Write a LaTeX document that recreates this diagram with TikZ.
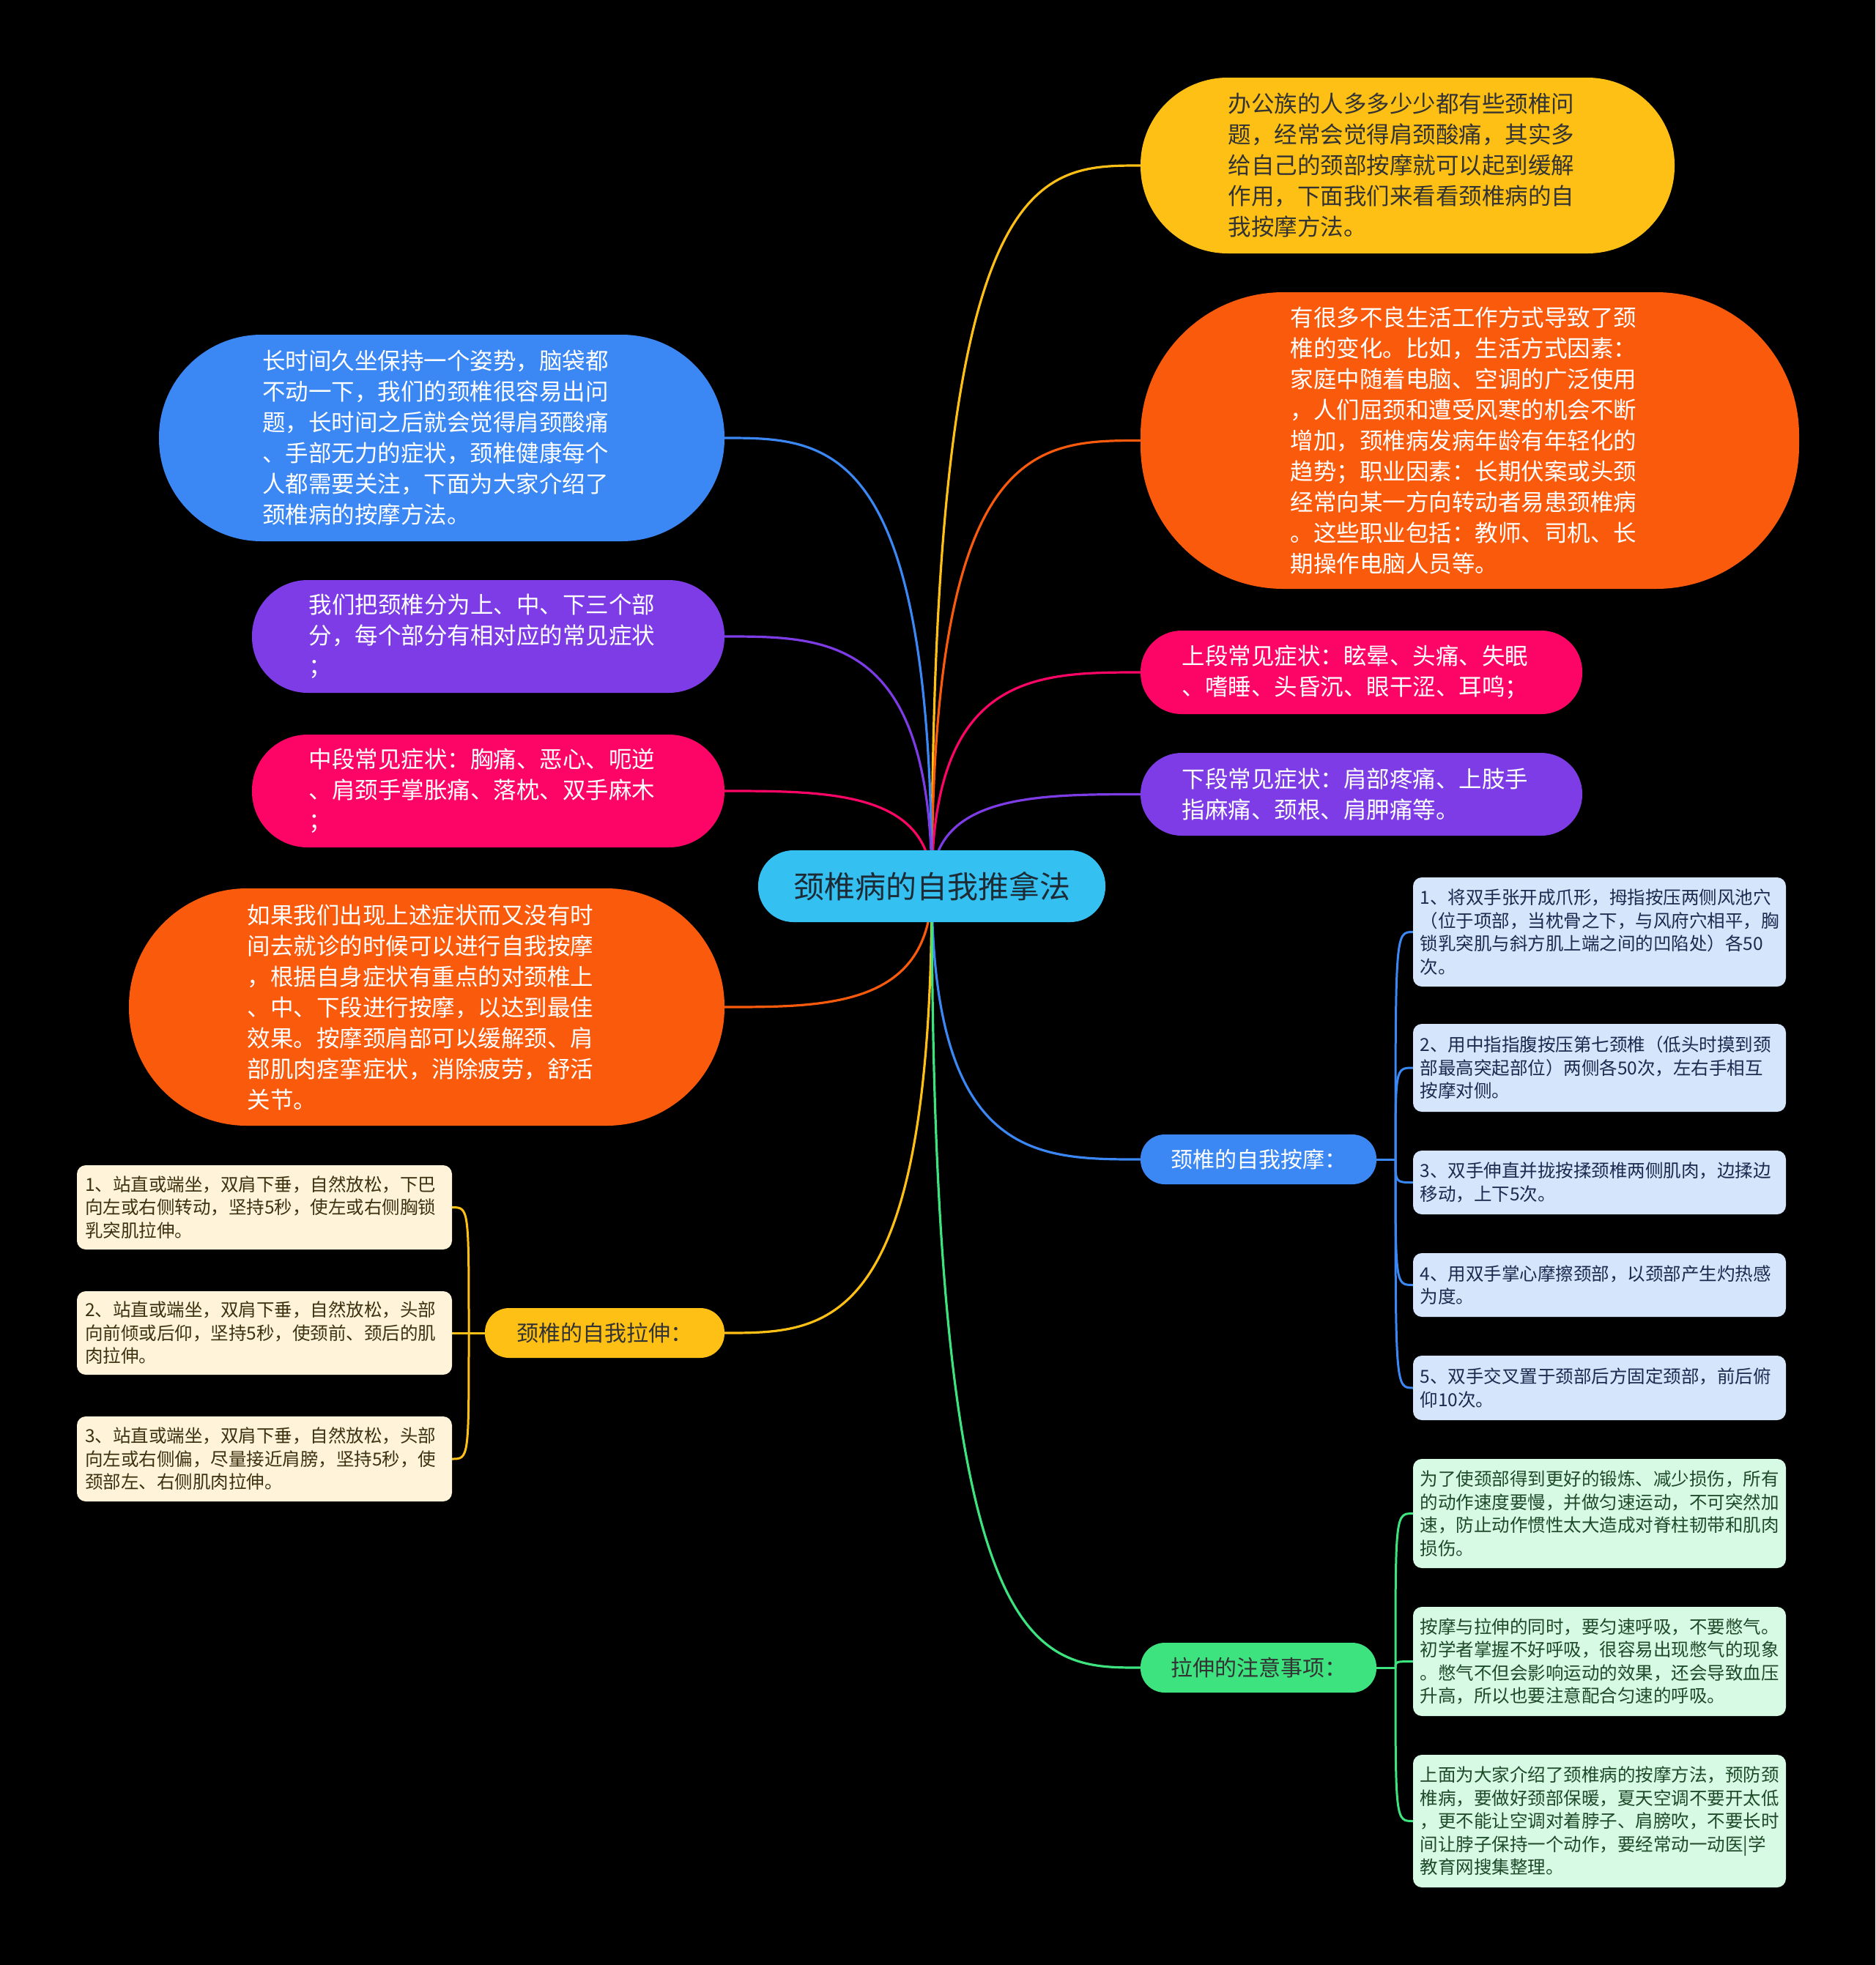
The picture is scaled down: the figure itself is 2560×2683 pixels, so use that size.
\documentclass[tikz,border=0pt]{standalone}
\usepackage{fontspec}
\setmainfont{Noto Sans CJK SC}
\usetikzlibrary{calc}
\pgfdeclarelayer{back}
\pgfdeclarelayer{mid}
\pgfsetlayers{back,mid,main}
\definecolor{cCenter}{HTML}{34C1F1}
\definecolor{cCenterTxt}{HTML}{1D2B36}
\definecolor{cYellow}{HTML}{FEC014}
\definecolor{cOrange}{HTML}{FA5A0C}
\definecolor{cPink}{HTML}{FD0467}
\definecolor{cPurple}{HTML}{7D3CE6}
\definecolor{cBlue}{HTML}{3B87F3}
\definecolor{cGreen}{HTML}{3DE37F}
\definecolor{cDark}{HTML}{333333}
\definecolor{cLeafBlue}{HTML}{D5E5FB}
\definecolor{cLeafBlueTxt}{HTML}{1B2A4E}
\definecolor{cLeafYel}{HTML}{FFF4D9}
\definecolor{cLeafYelTxt}{HTML}{3B3210}
\definecolor{cLeafGrn}{HTML}{D7FAE4}
\definecolor{cLeafGrnTxt}{HTML}{1E4A2A}
\tikzset{
  base/.style={rectangle, inner sep=0pt, outer sep=0pt, align=left},
  mainbox/.style={base, text width=490pt, font=\fontsize{31.5}{42}\selectfont},
  branchbox/.style={base, align=center, minimum height=68pt, rounded corners=33pt, font=\fontsize{30}{36}\selectfont},
  leafbox/.style={base, text width=490pt, rounded corners=12pt, font=\fontsize{24.5}{31.5}\selectfont},
  conn/.style={line width=3.2pt},
  lconn/.style={line width=3pt},
}
\newcommand{\mmlink}[3]{\draw[conn,#3] (#1.center) .. controls (#1.center |- #2) and ($(#1.center |- #2)!0.5!(#2)$) .. (#2);}
\newcommand{\lflink}[3]{\draw[lconn,#3] (#1) .. controls (#1 |- #2) .. (#2);}
\begin{document}
\begin{tikzpicture}[x=1pt,y=-1pt]
\begin{pgfonlayer}{back}
\fill[black] (0,0) rectangle (2560,2683);
\end{pgfonlayer}
\useasboundingbox (0,0) rectangle (2560,2683);

% center
\node[base, align=center, fill=cCenter, text=cCenterTxt, minimum width=474pt, minimum height=98pt, rounded corners=48pt, font=\fontsize{42}{50}\selectfont] (ctr) at (1272,1210) {颈椎病的自我推拿法};

% right main nodes
\node[mainbox, fill=cYellow, text=cDark, minimum width=729pt, minimum height=240pt, rounded corners=119pt] (r1) at (1921.5,226) {办公族的人多多少少都有些颈椎问\\题，经常会觉得肩颈酸痛，其实多\\给自己的颈部按摩就可以起到缓解\\作用，下面我们来看看颈椎病的自\\我按摩方法。};
\node[mainbox, fill=cOrange, text=white, minimum width=899pt, minimum height=405pt, rounded corners=195pt] (r2) at (2006.5,601.5) {有很多不良生活工作方式导致了颈\\椎的变化。比如，生活方式因素：\\家庭中随着电脑、空调的广泛使用\\，人们屈颈和遭受风寒的机会不断\\增加，颈椎病发病年龄有年轻化的\\趋势；职业因素：长期伏案或头颈\\经常向某一方向转动者易患颈椎病\\。这些职业包括：教师、司机、长\\期操作电脑人员等。};
\node[mainbox, fill=cPink, text=white, minimum width=603pt, minimum height=114pt, rounded corners=56pt] (r3) at (1858.5,918) {上段常见症状：眩晕、头痛、失眠\\、嗜睡、头昏沉、眼干涩、耳鸣；};
\node[mainbox, fill=cPurple, text=white, minimum width=603pt, minimum height=113pt, rounded corners=56pt] (r4) at (1858.5,1084.5) {下段常见症状：肩部疼痛、上肢手\\指麻痛、颈根、肩胛痛等。};

% left main nodes
\node[mainbox, fill=cBlue, text=white, minimum width=772pt, minimum height=282pt, rounded corners=140pt] (l1) at (603,598) {长时间久坐保持一个姿势，脑袋都\\不动一下，我们的颈椎很容易出问\\题，长时间之后就会觉得肩颈酸痛\\、手部无力的症状，颈椎健康每个\\人都需要关注，下面为大家介绍了\\颈椎病的按摩方法。};
\node[mainbox, fill=cPurple, text=white, minimum width=645pt, minimum height=154pt, rounded corners=76pt] (l2) at (666.5,869) {我们把颈椎分为上、中、下三个部\\分，每个部分有相对应的常见症状\\；};
\node[mainbox, fill=cPink, text=white, minimum width=645pt, minimum height=154pt, rounded corners=76pt] (l3) at (666.5,1080) {中段常见症状：胸痛、恶心、呃逆\\、肩颈手掌胀痛、落枕、双手麻木\\；};
\node[mainbox, fill=cOrange, text=white, minimum width=813pt, minimum height=324pt, rounded corners=161pt] (l4) at (582.5,1375) {如果我们出现上述症状而又没有时\\间去就诊的时候可以进行自我按摩\\，根据自身症状有重点的对颈椎上\\、中、下段进行按摩，以达到最佳\\效果。按摩颈肩部可以缓解颈、肩\\部肌肉痉挛症状，消除疲劳，舒活\\关节。};

% branch nodes
\node[branchbox, fill=cBlue, text=white, minimum width=322pt] (bm) at (1718,1583) {颈椎的自我按摩：};
\node[branchbox, fill=cYellow, text=cDark, minimum width=327pt] (bs) at (825.5,1820) {颈椎的自我拉伸：};
\node[branchbox, fill=cGreen, text=cDark, minimum width=322pt] (bz) at (1718,2277) {拉伸的注意事项：};

% massage leaves
\node[leafbox, fill=cLeafBlue, text=cLeafBlueTxt, minimum width=509pt, minimum height=149pt] (m1) at (2183.5,1272.5) {1、将双手张开成爪形，拇指按压两侧风池穴\\（位于项部，当枕骨之下，与风府穴相平，胸\\锁乳突肌与斜方肌上端之间的凹陷处）各50\\次。};
\node[leafbox, fill=cLeafBlue, text=cLeafBlueTxt, minimum width=509pt, minimum height=120pt] (m2) at (2183.5,1458) {2、用中指指腹按压第七颈椎（低头时摸到颈\\部最高突起部位）两侧各50次，左右手相互\\按摩对侧。};
\node[leafbox, fill=cLeafBlue, text=cLeafBlueTxt, minimum width=509pt, minimum height=87pt] (m3) at (2183.5,1614.5) {3、双手伸直并拢按揉颈椎两侧肌肉，边揉边\\移动，上下5次。};
\node[leafbox, fill=cLeafBlue, text=cLeafBlueTxt, minimum width=509pt, minimum height=87pt] (m4) at (2183.5,1754.5) {4、用双手掌心摩擦颈部，以颈部产生灼热感\\为度。};
\node[leafbox, fill=cLeafBlue, text=cLeafBlueTxt, minimum width=509pt, minimum height=88pt] (m5) at (2183.5,1895) {5、双手交叉置于颈部后方固定颈部，前后俯\\仰10次。};

% stretch leaves
\node[leafbox, fill=cLeafYel, text=cLeafYelTxt, minimum width=512pt, minimum height=115pt] (y1) at (361,1648.5) {1、站直或端坐，双肩下垂，自然放松，下巴\\向左或右侧转动，坚持5秒，使左或右侧胸锁\\乳突肌拉伸。};
\node[leafbox, fill=cLeafYel, text=cLeafYelTxt, minimum width=512pt, minimum height=114pt] (y2) at (361,1820) {2、站直或端坐，双肩下垂，自然放松，头部\\向前倾或后仰，坚持5秒，使颈前、颈后的肌\\肉拉伸。};
\node[leafbox, fill=cLeafYel, text=cLeafYelTxt, minimum width=512pt, minimum height=116pt] (y3) at (361,1992) {3、站直或端坐，双肩下垂，自然放松，头部\\向左或右侧偏，尽量接近肩膀，坚持5秒，使\\颈部左、右侧肌肉拉伸。};

% notes leaves
\node[leafbox, fill=cLeafGrn, text=cLeafGrnTxt, minimum width=509pt, minimum height=149pt] (g1) at (2183.5,2066.5) {为了使颈部得到更好的锻炼、减少损伤，所有\\的动作速度要慢，并做匀速运动，不可突然加\\速，防止动作惯性太大造成对脊柱韧带和肌肉\\损伤。};
\node[leafbox, fill=cLeafGrn, text=cLeafGrnTxt, minimum width=509pt, minimum height=149pt] (g2) at (2183.5,2268.5) {按摩与拉伸的同时，要匀速呼吸，不要憋气。\\初学者掌握不好呼吸，很容易出现憋气的现象\\。憋气不但会影响运动的效果，还会导致血压\\升高，所以也要注意配合匀速的呼吸。};
\node[leafbox, fill=cLeafGrn, text=cLeafGrnTxt, minimum width=509pt, minimum height=181pt] (g3) at (2183.5,2486.5) {上面为大家介绍了颈椎病的按摩方法，预防颈\\椎病，要做好颈部保暖，夏天空调不要开太低\\，更不能让空调对着脖子、肩膀吹，不要长时\\间让脖子保持一个动作，要经常动一动医|学\\教育网搜集整理。};

\coordinate (jB) at ($(bm.east)+(26,0)$);
\coordinate (jY) at ($(bs.west)+(-22,0)$);
\coordinate (jG) at ($(bz.east)+(26,0)$);

\begin{pgfonlayer}{mid}
\mmlink{ctr}{r1.west}{cYellow}
\mmlink{ctr}{r2.west}{cOrange}
\mmlink{ctr}{r3.west}{cPink}
\mmlink{ctr}{r4.west}{cPurple}
\mmlink{ctr}{l1.east}{cBlue}
\mmlink{ctr}{l2.east}{cPurple}
\mmlink{ctr}{l3.east}{cPink}
\mmlink{ctr}{l4.east}{cOrange}
\mmlink{ctr}{bm.west}{cBlue}
\mmlink{ctr}{bs.east}{cYellow}
\mmlink{ctr}{bz.west}{cGreen}
\draw[lconn,cBlue] (bm.east) -- (jB);
\draw[lconn,cYellow] (bs.west) -- (jY);
\draw[lconn,cGreen] (bz.east) -- (jG);
\lflink{jB}{m1.west}{cBlue}
\lflink{jB}{m2.west}{cBlue}
\lflink{jB}{m3.west}{cBlue}
\lflink{jB}{m4.west}{cBlue}
\lflink{jB}{m5.west}{cBlue}
\lflink{jY}{y1.east}{cYellow}
\lflink{jY}{y2.east}{cYellow}
\lflink{jY}{y3.east}{cYellow}
\lflink{jG}{g1.west}{cGreen}
\lflink{jG}{g2.west}{cGreen}
\lflink{jG}{g3.west}{cGreen}
\end{pgfonlayer}
\end{tikzpicture}
\end{document}
